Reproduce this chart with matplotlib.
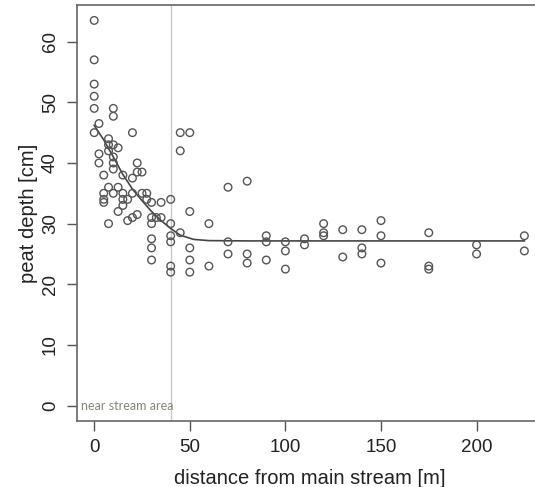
import matplotlib

matplotlib.use("Agg")
import matplotlib.pyplot as plt

# distance from main stream [m] and peat depth [cm]
dist = [0, 0, 0, 0, 0, 0,
        2.5, 2.5, 2.5,
        5, 5, 5, 5,
        7.5, 7.5, 7.5, 7.5, 7.5,
        10, 10, 10, 10, 10, 10, 10,
        12.5, 12.5, 12.5,
        15, 15, 15, 15,
        17.5, 17.5,
        20, 20, 20, 20,
        22.5, 22.5, 22.5,
        25, 25,
        27.5, 27.5,
        30, 30, 30, 30, 30, 30,
        32.5,
        35, 35,
        40, 40, 40, 40, 40, 40,
        45, 45, 45,
        50, 50, 50, 50, 50,
        60, 60,
        70, 70, 70,
        80, 80, 80,
        90, 90, 90,
        100, 100, 100,
        110, 110,
        120, 120, 120,
        130, 130,
        140, 140, 140,
        150, 150, 150,
        175, 175, 175,
        200, 200,
        225, 225]
depth = [63.5, 57, 53, 51, 49, 45,
         46.5, 41.5, 40,
         38, 35, 34, 33.5,
         44, 43, 42, 36, 30,
         49, 47.7, 43, 41, 40, 39, 35,
         42.5, 36, 32,
         38, 35, 34, 33,
         34, 30.5,
         45, 37.5, 35, 31,
         40, 38.5, 31.5,
         38.5, 35,
         35, 34,
         33.5, 31, 30, 27.5, 26, 24,
         31,
         33.5, 31,
         34, 30, 28, 27, 23, 22,
         45, 42, 28.5,
         45, 32, 26, 24, 22,
         30, 23,
         36, 27, 25,
         37, 25, 23.5,
         28, 27, 24,
         27, 25.5, 22.5,
         27.5, 26.5,
         30, 28.5, 28,
         29, 24.5,
         29, 26, 25,
         30.5, 28, 23.5,
         28.5, 23, 22.5,
         26.5, 25,
         28, 25.5]

# fitted curve
fit_x = [0, 5, 10, 15, 20, 25, 30, 35, 40, 45, 52, 60, 80, 225]
fit_y = [46.2, 43.8, 41.0, 38.1, 35.7, 33.8, 32.0, 30.5, 29.2, 28.1, 27.4, 27.2, 27.15, 27.15]

near_x = 40
near_label = "near stream area"

plt.rcParams["font.family"] = "Liberation Sans"

fig = plt.figure(figsize=(5.35, 4.87), dpi=100)
ax = fig.add_axes([0.1439, 0.1355, 0.8684, 0.8542])

ax.axvline(near_x, color="#c8c8c8", lw=1.0, zorder=1)
ax.plot(fit_x, fit_y, color="#444444", lw=1.2, zorder=2)
ax.scatter(dist, depth, s=30, facecolors="none", edgecolors="#555555",
           linewidths=1.0, zorder=3)
ax.text(-7, 0, near_label, fontsize=9, family="Lato", color="#85857a",
        ha="left", va="center")

ax.set_xlim(-9, 234)
ax.set_ylim(-2.54, 66.04)
ax.set_xticks([0, 50, 100, 150, 200])
ax.set_yticks([0, 10, 20, 30, 40, 50, 60])
ax.tick_params(length=7, width=1, color="#555555", labelsize=13.5,
               labelcolor="#222222", pad=6)
for lab in ax.get_yticklabels():
    lab.set_rotation(90)
    lab.set_va("center")
for s in ax.spines.values():
    s.set_color("#666666")
    s.set_linewidth(1.2)

ax.set_xlabel("distance from main stream [m]", fontsize=14.5, color="#222222",
              labelpad=9)
ax.set_ylabel("peat depth [cm]", fontsize=14.5, color="#222222", labelpad=3)

fig.savefig("out.png", dpi=100)
